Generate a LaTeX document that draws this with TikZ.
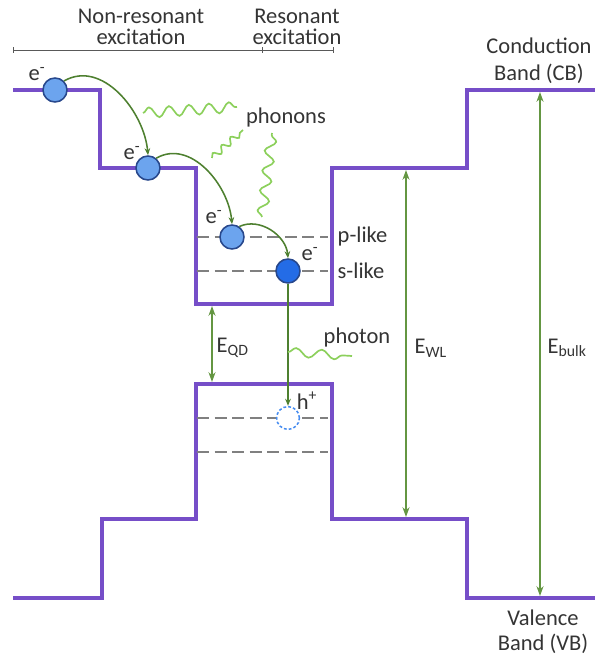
\documentclass[tikz,border=0pt]{standalone}
\usepackage{fontspec}
\setmainfont{Carlito}
\usepackage{xcolor}
\usepackage{tikz}
\usetikzlibrary{arrows.meta, positioning, decorations.pathmorphing}
\definecolor{bandpurple}{RGB}{118,78,200}
\definecolor{jumpgreen}{RGB}{78,128,48}
\definecolor{gapgreen}{RGB}{100,150,66}
\definecolor{wavegreen}{RGB}{140,208,92}
\definecolor{elecblue}{RGB}{108,164,238}
\definecolor{elecdark}{RGB}{36,108,230}
\definecolor{rimblue}{RGB}{40,72,140}
\definecolor{holeblue}{RGB}{70,140,240}
\definecolor{textgray}{RGB}{52,52,52}

\begin{document}
\begin{tikzpicture}[
  x=0.025cm, y=0.025cm,
  font=\fontsize{16}{14.5}\selectfont, text=textgray,
  band/.style={bandpurple, line width=2.5pt},
  level/.style={gray, dash pattern=on 8.5pt off 4pt, line width=1.4pt},
  elec/.style={circle, draw=rimblue, fill=elecblue, line width=1.1pt,
               minimum size=0.6cm, inner sep=0pt},
  hole/.style={circle, draw=holeblue, fill=white, line width=1.1pt,
               dash pattern=on 2pt off 1.5pt, minimum size=0.57cm, inner sep=0pt},
  jump/.style={-{Stealth[length=5pt, width=4pt]}, jumpgreen, line width=1.1pt},
  gap/.style={{Stealth[length=7pt, width=5pt]}-{Stealth[length=7pt, width=5pt]},
              gapgreen, line width=1.1pt},
  wave/.style={wavegreen, line width=1.2pt, decorate,
               decoration={snake, segment length=0.5cm, amplitude=0.13cm}},
  smallwave/.style={wave, decoration={snake, segment length=0.3cm, amplitude=0.08cm}},
  txt/.style={align=center, inner sep=1pt},
]
\useasboundingbox (0,0) rectangle (595,660);

% ── band edges ───────────────────────────────────────────────
\draw[band] (13,570) -- (100,570) -- (100,492) -- (196,492) -- (196,356)
  -- (332,356) -- (332,492) -- (467,492) -- (467,570) -- (595,570);
\draw[band] (13,62) -- (102,62) -- (102,141) -- (196,141) -- (196,276)
  -- (332,276) -- (332,141) -- (467,141) -- (467,62) -- (595,62);

% ── confined levels ──────────────────────────────────────────
\draw[level] (197,423) -- (328,423);
\draw[level] (197,389) -- (328,389);
\draw[level] (197,242) -- (328,242);
\draw[level] (197,208) -- (328,208);

% ── excitation scale ─────────────────────────────────────────
\node[txt] (nonres) at (141,633) {Non-resonant\\excitation};
\node[txt] (res) at (297,633) {Resonant\\excitation};
\draw[gray!70!black, line width=0.6pt] (13,610) -- (333,610);
\foreach \x in {13,262,333}
  \draw[gray!70!black, line width=0.6pt] (\x,607) -- (\x,613);

% ── carriers ─────────────────────────────────────────────────
\node[elec] (e1) at (55,570) {};
\node[elec] (e2) at (148,492) {};
\node[elec] (e3) at (232,423) {};
\node[elec, fill=elecdark] (e4) at (288,389) {};
\node[hole] (h) at (288,242) {};

\node[txt] (e1l) at (37,586) {e\textsuperscript{-}};
\node[txt] (e2l) at (132,507) {e\textsuperscript{-}};
\node[txt] (e3l) at (214,443) {e\textsuperscript{-}};
\node[txt] (e4l) at (310,406) {e\textsuperscript{-}};
\node[txt] (hl) at (307,259) {h\textsuperscript{+}};

\draw[jump] (e1.45) to[out=30, in=95] (e2.north);
\draw[jump] (e2.50) to[out=30, in=95] (e3.north);
\draw[jump] (e3.55) to[out=25, in=95] (e4.north);
\draw[jump] (e4.south) -- (h.north);

% ── phonons and photon ───────────────────────────────────────
\coordinate (ph1a) at (143,547);
\coordinate (ph1b) at (237,553);
\coordinate (ph2a) at (212,502);
\coordinate (ph2b) at (243,530);
\coordinate (ph3a) at (262,443);
\coordinate (ph3b) at (272,527);
\coordinate (pta) at (288,308);
\coordinate (ptb) at (352,304);
\draw[wave] (ph1a) -- (ph1b);
\draw[smallwave] (ph2a) -- (ph2b);
\draw[wave] (ph3a) -- (ph3b);
\draw[wave, decoration={snake, segment length=0.64cm, amplitude=0.11cm}] (pta) -- (ptb);

\node[txt] (phlbl) at (286,542) {phonons};
\node[txt, anchor=west] (photlbl) at (322,322) {photon};
\node[txt, anchor=west] (plike) at (336,423) {p-like};
\node[txt, anchor=west] (slike) at (336,389) {s-like};

% ── energy gaps ──────────────────────────────────────────────
\coordinate (qdc) at (212,354);
\coordinate (qdv) at (212,278);
\coordinate (wlc) at (406,490);
\coordinate (wlv) at (406,143);
\coordinate (bkc) at (540,568);
\coordinate (bkv) at (540,64);
\draw[gap] (qdc) -- (qdv);
\draw[gap] (wlc) -- (wlv);
\draw[gap] (bkc) -- (bkv);

\node[txt, anchor=west] (eqd) at (215,312) {E\textsubscript{QD}};
\node[txt, anchor=west] (ewl) at (413,312) {E\textsubscript{WL}};
\node[txt, anchor=west] (ebulk) at (546,312) {E\textsubscript{bulk}};

\node[txt, font=\fontsize{16}{19}\selectfont] (cb) at (539,599) {Conduction\\Band (CB)};
\node[txt, font=\fontsize{16}{18}\selectfont] (vb) at (543,28) {Valence\\Band (VB)};

\end{tikzpicture}
\end{document}
